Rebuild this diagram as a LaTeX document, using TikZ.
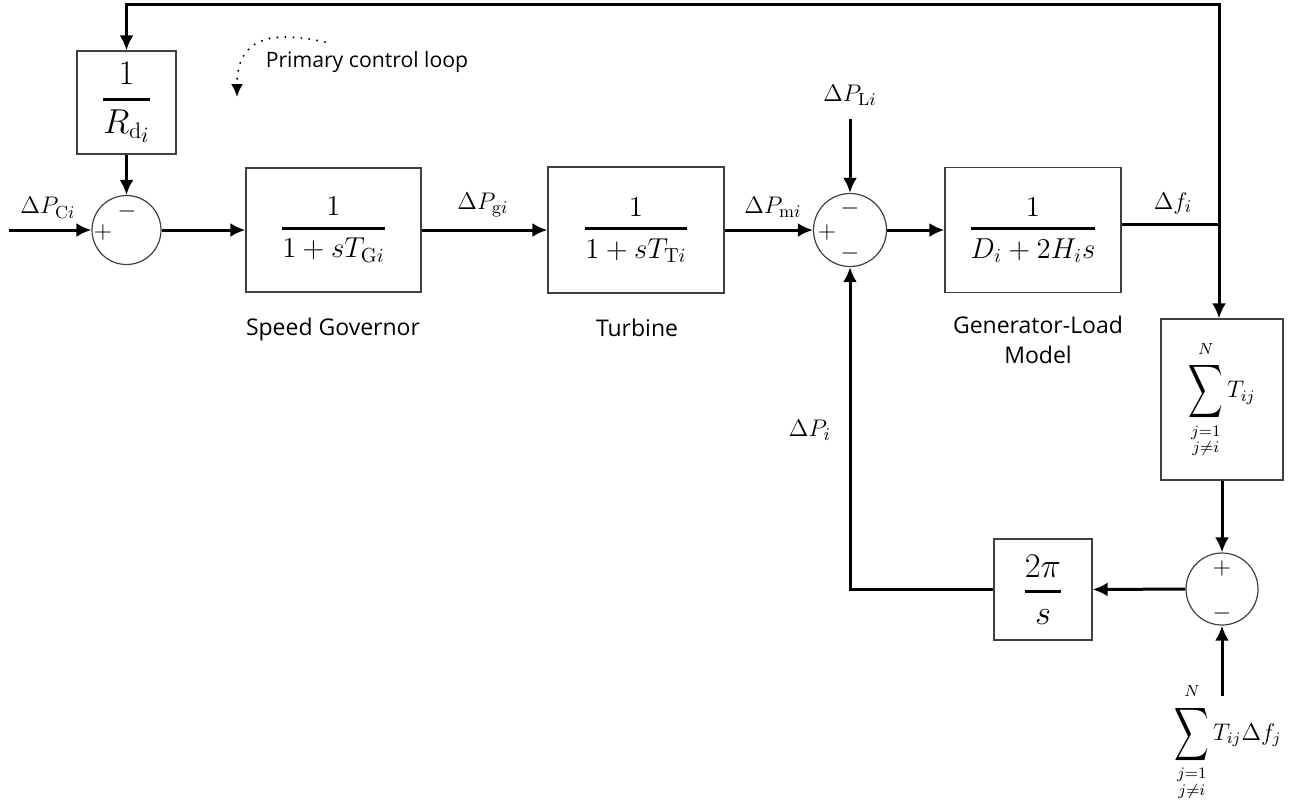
\documentclass[tikz,border=0pt]{standalone}
\usepackage{amsmath}
\usepackage{graphicx}
\usepackage{fontspec}
\newfontfamily\capfont{Open Sans}
\usetikzlibrary{arrows.meta,calc}

% fraction with a heavy bar, as used inside the transfer-function blocks
\newcommand{\blockfrac}[2]{\genfrac{}{}{1.4pt}{0}{#1}{#2}}
% tall summation sign with limits
\newcommand{\bigsum}{\mathop{\vcenter{\hbox{\scalebox{1}[1.55]{$\displaystyle\sum$}}}}\limits}
% upper limit lifted slightly clear of the summation sign
\newcommand{\uplim}[1]{#1\rule[-2.5pt]{0pt}{0pt}}

\begin{document}
\begin{tikzpicture}[x=0.5pt,y=-0.5pt,
  blockbox/.style={draw=black!75, line width=0.6pt, inner sep=0pt, fill=white},
  sumnode/.style={circle, draw=black!75, line width=0.6pt, inner sep=0pt},
  sig/.style={line width=1.5pt, -{Latex[length=7.5pt,width=7pt]}},
  sigboth/.style={line width=1.5pt, {Latex[length=7.5pt,width=7pt]}-{Latex[length=7.5pt,width=7pt]}},
  wire/.style={line width=1.5pt},
  lab/.style={font=\fontsize{12.5}{15}\selectfont, inner sep=0pt},
  captext/.style={font=\capfont\fontsize{11.5}{15}\selectfont, inner sep=0pt, align=center},
  bigmath/.style={font=\fontsize{14.5}{17}\selectfont},
  hugemath/.style={font=\fontsize{16}{19}\selectfont},
  summath/.style={font=\fontsize{12}{14}\selectfont, inner sep=0pt},
  sgn/.style={font=\fontsize{12}{14}\selectfont, inner sep=0pt}
]
\useasboundingbox (0,0) rectangle (1304,805);

% ---- transfer-function blocks
\node[blockbox, minimum width=49.5pt, minimum height=51.5pt, hugemath] (rd) at (126.5,102.5)
  {$\blockfrac{1}{R_{\mathrm{d}\lower2pt\hbox{$\scriptstyle i$}}}$};
\node[blockbox, minimum width=87.5pt, minimum height=62pt, bigmath] (gov) at (333.5,230)
  {$\blockfrac{1}{1+sT_{\mathrm{G}i}}$};
\node[blockbox, minimum width=88pt, minimum height=63pt, bigmath] (tur) at (636,230)
  {$\blockfrac{1}{1+sT_{\mathrm{T}i}}$};
\node[blockbox, minimum width=88pt, minimum height=62.5pt, bigmath] (gen) at (1033,230)
  {$\blockfrac{1}{D_i+2H_is}$};
\node[blockbox, minimum width=61pt, minimum height=80.5pt, summath] (tie) at (1222,399.5)
  {$\displaystyle\bigsum_{\substack{j=1\\ j\neq i}}^{\uplim{N}} T_{ij}$};
\node[blockbox, minimum width=49pt, minimum height=50.5pt, hugemath] (int) at (1043,589.5)
  {$\blockfrac{2\pi}{s}$};

% ---- summing junctions
\node[sumnode, minimum size=34.5pt] (s1) at (126.5,230) {};
\node[sumnode, minimum size=36.5pt] (s2) at (850,230) {};
\node[sumnode, minimum size=36pt] (s3) at (1222,589) {};

\node[sgn] (s1p) at (103,232) {$+$};
\node[sgn] (s1m) at (127,211) {$-$};
\node[sgn] (s2p) at (827,232) {$+$};
\node[sgn] (s2m) at (850,208) {$-$};
\node[sgn] (s2n) at (850,253) {$-$};
\node[sgn] (s3p) at (1222,568) {$+$};
\node[sgn] (s3m) at (1222,613) {$-$};

% ---- signal labels
\node[lab] (lpc) at (48,208) {$\Delta P_{\mathrm{C}i}$};
\node[lab] (lpg) at (483,205) {$\Delta P_{\mathrm{g}i}$};
\node[lab] (lpm) at (773,207) {$\Delta P_{\mathrm{m}i}$};
\node[lab] (lpl) at (850,95) {$\Delta P_{\mathrm{L}i}$};
\node[lab] (lfi) at (1173,203) {$\Delta f_i$};
\node[lab] (lpi) at (810,430) {$\Delta P_i$};
\node[summath] (lsum) at (1228,742)
  {$\displaystyle\bigsum_{\substack{j=1\\ j\neq i}}^{\uplim{N}} T_{ij}\Delta f_j$};

% ---- block captions
\node[captext] (cgov) at (333,330) {Speed Governor};
\node[captext] (ctur) at (637,328) {Turbine};
\node[captext, text depth=0pt] (cgen) at (1038,340) {Generator-Load\\Model};
\node[captext, font=\capfont\fontsize{10.6}{13}\selectfont] (cloop) at (367,62) {Primary control loop};

% ---- free ends and branch points
\coordinate (in) at (9,230);
\coordinate (br) at (1219,224);
\coordinate (top) at (1219,4);
\coordinate (plin) at (850,119);
\coordinate (bin) at (1222,696);
\coordinate (loopA) at (325,42);
\coordinate (loopB) at (237,97);

% ---- forward path
\draw[sig] (in) -- (s1.west);
\draw[sig] (rd.south) -- (s1.north);
\draw[sig] (s1.east) -- (gov.west);
\draw[sig] (gov.east) -- (tur.west);
\draw[sig] (tur.east) -- (s2.west);
\draw[sig] (plin) -- (s2.north);
\draw[sig] (s2.east) -- (gen.west);
\draw[wire] (gen.east |- br) -- (br);

% ---- frequency feedback to the droop block and to the tie-line block
\draw[sigboth] (rd.north) |- (top) -- (br |- tie.north);

% ---- tie-line power path
\draw[sig] (tie.south) -- (s3.north);
\draw[sig] (bin) -- (s3.south);
\draw[sig] (s3.west) -- (int.east);
\draw[sig] (int.west) -| (s2.south);

% ---- primary control loop indicator
\draw[line width=1.1pt, dash pattern=on 0pt off 4pt, line cap=round,
      -{Latex[length=6.5pt,width=6pt]}]
  (loopA) .. controls (270,30) and (237,38) .. (loopB);
\end{tikzpicture}
\end{document}
